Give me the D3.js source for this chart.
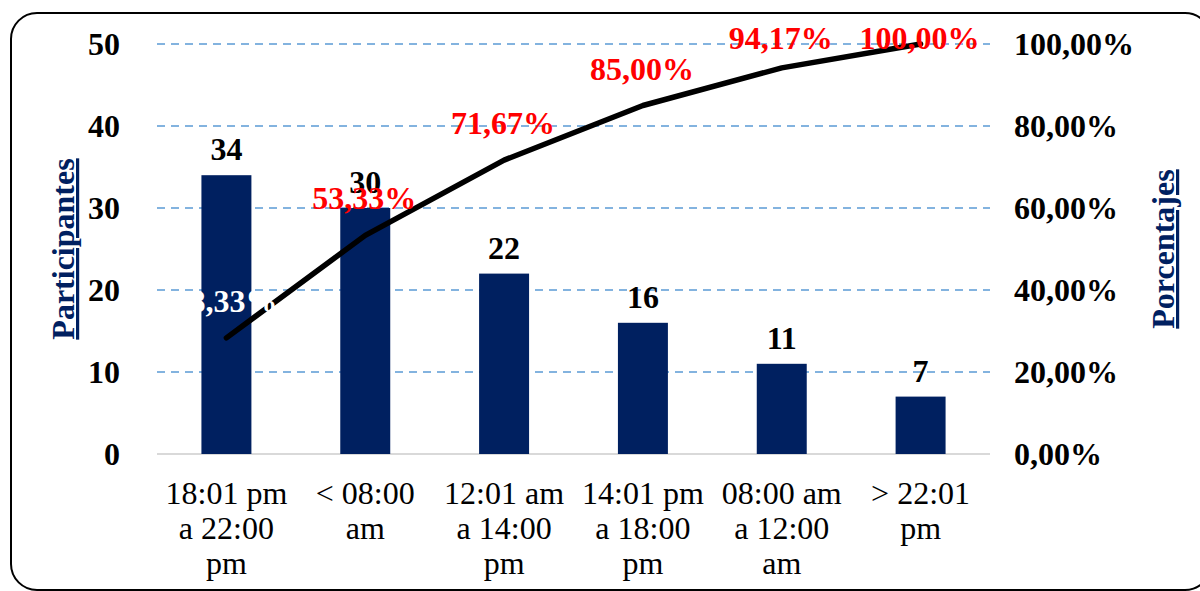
<!DOCTYPE html>
<html>
<head>
<meta charset="utf-8">
<script src="https://cdn.jsdelivr.net/npm/d3@7"></script>
<style>
  html, body { margin: 0; padding: 0; background: #ffffff; }
  svg { display: block; }
</style>
</head>
<body>
<svg id="chart" width="1200" height="591"></svg>
<script>
// Horarios de participación: barras = participantes, línea = porcentaje acumulado
const categories = [
  "18:01 pm\na 22:00\npm",
  "< 08:00\nam",
  "12:01 am\na 14:00\npm",
  "14:01 pm\na 18:00\npm",
  "08:00 am\na 12:00\nam",
  "> 22:01\npm"
];
const participants = [34, 30, 22, 16, 11, 7];
const cumulativePct = [28.33, 53.33, 71.67, 85.00, 94.17, 100.00];
const leftTicks = [0, 10, 20, 30, 40, 50];
const rightTicks = [0, 20, 40, 60, 80, 100];
const leftTitle = "Participantes";
const rightTitle = "Porcentajes";

const W = 1200, H = 591;
const margin = { top: 44, right: 210, bottom: 137, left: 157 };
const plotW = W - margin.left - margin.right;
const plotH = H - margin.top - margin.bottom;

const serif = "'Liberation Serif', 'Times New Roman', serif";
const navy = "#002060";
const fontSize = 32;

const svg = d3.select("#chart");

// outer frame with rounded corners
svg.append("rect")
  .attr("x", 11).attr("y", 13)
  .attr("width", 1200).attr("height", 577)
  .attr("rx", 26).attr("ry", 26)
  .attr("fill", "#fff")
  .attr("stroke", "#000")
  .attr("stroke-width", 2);

const g = svg.append("g").attr("transform", `translate(${margin.left},${margin.top})`);

const x = d3.scaleBand().domain(d3.range(categories.length)).range([0, plotW]).paddingInner(0.64).paddingOuter(0.32);
const yL = d3.scaleLinear().domain([0, 50]).range([plotH, 0]);
const yR = d3.scaleLinear().domain([0, 100]).range([plotH, 0]);

// gridlines
g.append("g").selectAll("line")
  .data(leftTicks.filter(d => d > 0))
  .join("line")
  .attr("x1", 0).attr("x2", plotW)
  .attr("y1", d => yL(d)).attr("y2", d => yL(d))
  .attr("stroke", "#5B9BD5")
  .attr("stroke-width", 1.6)
  .attr("stroke-dasharray", "8,6");

// baseline
g.append("line")
  .attr("x1", 0).attr("x2", plotW)
  .attr("y1", yL(0)).attr("y2", yL(0))
  .attr("stroke", "#D9D9D9").attr("stroke-width", 2);

// left axis
const axL = g.append("g").call(d3.axisLeft(yL).tickValues(leftTicks).tickSize(0).tickPadding(37));
axL.select(".domain").remove();
axL.selectAll("text")
  .attr("font-family", serif).attr("font-size", fontSize).attr("font-weight", "bold")
  .attr("fill", "#000");

// right axis
const pctFmt = v => d3.format(".2f")(v).replace(".", ",") + "%";
const axR = g.append("g").attr("transform", `translate(${plotW},0)`)
  .call(d3.axisRight(yR).tickValues(rightTicks).tickSize(0).tickPadding(24).tickFormat(pctFmt));
axR.select(".domain").remove();
axR.selectAll("text")
  .attr("font-family", serif).attr("font-size", fontSize).attr("font-weight", "bold")
  .attr("fill", "#000");

// category labels (multi-line)
const catG = g.append("g").attr("transform", `translate(0,${plotH})`);
catG.selectAll("text")
  .data(categories)
  .join("text")
  .attr("x", (d, i) => x(i) + x.bandwidth() / 2)
  .attr("y", 50)
  .attr("text-anchor", "middle")
  .attr("font-family", serif).attr("font-size", fontSize)
  .attr("fill", "#000")
  .each(function(d) {
    const t = d3.select(this);
    d.split("\n").forEach((line, k) => {
      t.append("tspan")
        .attr("x", t.attr("x"))
        .attr("dy", k === 0 ? 0 : 35)
        .text(line);
    });
  });

// bars
g.append("g").selectAll("rect")
  .data(participants)
  .join("rect")
  .attr("x", (d, i) => x(i))
  .attr("y", d => yL(d))
  .attr("width", x.bandwidth())
  .attr("height", d => plotH - yL(d))
  .attr("fill", navy);

// cumulative line
const cx = i => x(i) + x.bandwidth() / 2;
const line = d3.line()
  .x((d, i) => cx(i))
  .y(d => yR(d));
g.append("path")
  .datum(cumulativePct)
  .attr("d", line)
  .attr("fill", "none")
  .attr("stroke", "#000")
  .attr("stroke-width", 5.5)
  .attr("stroke-linejoin", "round")
  .attr("stroke-linecap", "round");

// bar value labels
g.append("g").selectAll("text")
  .data(participants)
  .join("text")
  .attr("x", (d, i) => cx(i))
  .attr("y", d => yL(d) - 15)
  .attr("text-anchor", "middle")
  .attr("font-family", serif).attr("font-size", fontSize).attr("font-weight", "bold")
  .attr("fill", "#000")
  .text(d => d);

// cumulative percentage labels
g.append("g").selectAll("text")
  .data(cumulativePct)
  .join("text")
  .attr("x", (d, i) => cx(i) - 1)
  .attr("y", d => Math.max(yR(d) - 26, 5))
  .attr("text-anchor", "middle")
  .attr("font-family", serif).attr("font-size", fontSize).attr("font-weight", "bold")
  .attr("fill", (d, i) => i === 0 ? "#ffffff" : "#FF0000")
  .text(d => pctFmt(d));

// axis titles
svg.append("text")
  .attr("transform", `translate(74,${margin.top + plotH / 2}) rotate(-90)`)
  .attr("text-anchor", "middle")
  .attr("font-family", serif).attr("font-size", fontSize).attr("font-weight", "bold")
  .attr("text-decoration", "underline")
  .attr("fill", navy)
  .text(leftTitle);

svg.append("text")
  .attr("transform", `translate(1174,${margin.top + plotH / 2}) rotate(-90)`)
  .attr("text-anchor", "middle")
  .attr("font-family", serif).attr("font-size", fontSize).attr("font-weight", "bold")
  .attr("text-decoration", "underline")
  .attr("fill", navy)
  .text(rightTitle);
</script>
</body>
</html>
